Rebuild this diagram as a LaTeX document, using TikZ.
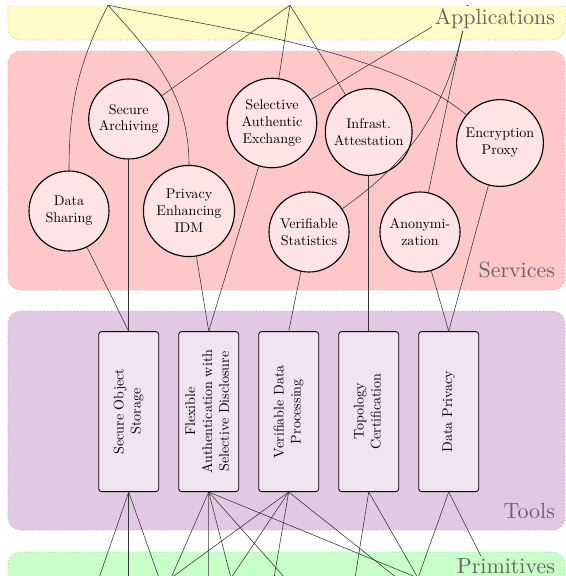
\documentclass[tikz,border=0pt]{standalone}
\usepackage{xcolor}
\usepackage{tikz}
\usetikzlibrary{shapes,arrows,positioning}
\definecolor{appsbg}{RGB}{255, 251, 200}
\definecolor{servbg}{RGB}{255, 200, 200}
\definecolor{toolbg}{RGB}{226, 200, 226}
\definecolor{primbg}{RGB}{200, 255, 200}
\definecolor{servfill}{RGB}{255, 228, 230}
\definecolor{toolfill}{RGB}{240, 228, 240}
\definecolor{lbl}{RGB}{100, 100, 100}
\tikzstyle{layer} = [draw=black!40, dotted, rounded corners=0.3cm]
\tikzstyle{layerlabel} = [text=lbl, inner sep=2pt, anchor=east]
\tikzstyle{service} = [circle, draw, thick, fill=servfill, align=center, minimum size=2cm]
\tikzstyle{tool} = [rectangle, draw, semithick, fill=toolfill, rounded corners=2pt, minimum width=1.5cm, minimum height=4cm, inner sep=0pt]
\tikzstyle{line} = [draw, black!80]
\newcommand{\vtext}[1]{\rotatebox{90}{\begin{tabular}{@{}c@{}}#1\end{tabular}}}
\newcommand{\layername}[1]{\scalebox{1.56}{#1}}

\begin{document}
\begin{tikzpicture}[node distance=2cm, auto]
    \useasboundingbox (0,0) rectangle (14.15,-14.4);
    % layers, cut off at top and bottom
    \begin{scope}
        \clip (0,-0.14) rectangle (14.15,-14.4);
        \path [layer, fill=appsbg] (0.2,0.5) rectangle (14.125,-1.0);
        \path [layer, fill=servbg] (0.2,-1.275) rectangle (14.125,-7.25);
        \path [layer, fill=toolbg] (0.2,-7.775) rectangle (14.125,-13.25);
        \path [layer, fill=primbg] (0.2,-13.8) rectangle (14.125,-15.2);
    \end{scope}

    % tools
    \node [tool] (sos) at (3.2175,-10.29) {\vtext{Secure Object\\Storage}};
    \node [tool, right of=sos] (flex) {\vtext{Flexible\\Authentication with\\Selective Disclosure}};
    \node [tool, right of=flex] (vdp) {\vtext{Verifiable Data\\Processing}};
    \node [tool, right of=vdp] (topo) {\vtext{Topology\\Certification}};
    \node [tool, right of=topo] (dp) {\vtext{Data Privacy}};

    % services
    \node [service, above of=sos, node distance=7.315cm] (sa) {Secure\\Archiving};
    \node [service] (ds) at (1.725,-5.275) {Data\\Sharing};
    \node [service] (pe) at (4.725,-5.275) {Privacy\\Enhancing\\IDM};
    \node [service] (sae) at (6.8,-3.075) {Selective\\Authentic\\Exchange};
    \node [service, above of=topo, node distance=6.99cm] (ia) {Infrast.\\Attestation};
    \node [service] (ep) at (12.5,-3.575) {Encryption\\Proxy};
    \node [service] (vs) at (7.725,-5.8) {Verifiable\\Statistics};
    \node [service, right of=vs, node distance=2.775cm] (an) {Anonymi-\\zation};

    % applications and primitives lie outside the picture
    \coordinate (app1) at (2.7,-0.13);
    \coordinate (app2) at (7.25,-0.13);
    \coordinate (app3) at (11.7,-0.13);
    \coordinate (prim1) at (2.475,-14.45);
    \coordinate (prim2) at (3.2175,-14.45);
    \coordinate (prim3) at (3.975,-14.45);
    \coordinate (prim4) at (4.275,-14.45);
    \coordinate (prim5) at (5.2175,-14.45);
    \coordinate (prim6) at (5.775,-14.45);
    \coordinate (prim7) at (6.85,-14.45);
    \coordinate (prim8) at (7.125,-14.45);
    \coordinate (prim9) at (8.875,-14.45);
    \coordinate (prim10) at (9.925,-14.45);
    \coordinate (prim11) at (10.45,-14.45);
    \coordinate (prim12) at (12.3,-14.45);

    \path [line] (ds.north) to[out=90, in=-117] (app1);
    \path [line] (pe.north) to[out=90, in=-48] (app1);
    \path [line] (ep) to[out=140, in=-12, looseness=0.7] (app1);
    \path [line] (sa) -- (app2);
    \path [line] (sae) -- (app2);
    \path [line] (ia) -- (app2);
    \path [line] (sae) -- (app3);
    \path [line] (vs) to[out=35, in=-100] (app3);
    \path [line] (an) -- (app3);

    \path [line] (ds) -- (sos.north);
    \path [line] (sa) -- (sos.north);
    \path [line] (pe) -- (flex.north);
    \path [line] (sae) -- (flex.north);
    \path [line] (vs) -- (vdp.north);
    \path [line] (ia) -- (topo.north);
    \path [line] (an) -- (dp.north);
    \path [line] (ep) -- (dp.north);

    \path [line] (sos.south) -- (prim1);
    \path [line] (sos.south) -- (prim2);
    \path [line] (sos.south) -- (prim3);
    \path [line] (flex.south) -- (prim4);
    \path [line] (flex.south) -- (prim5);
    \path [line] (flex.south) -- (prim6);
    \path [line] (flex.south) -- (prim8);
    \path [line] (flex.south) -- (prim11);
    \path [line] (vdp.south) -- (prim4);
    \path [line] (vdp.south) -- (prim6);
    \path [line] (vdp.south) -- (prim7);
    \path [line] (vdp.south) -- (prim10);
    \path [line] (topo.south) -- (prim9);
    \path [line] (topo.south) -- (prim11);
    \path [line] (dp.south) -- (prim11);
    \path [line] (dp.south) -- (prim12);

    % layer names on top of the lines
    \node [layerlabel, fill=appsbg] (applbl) at (13.95,-0.465) {\layername{Applications}};
    \node [layerlabel, fill=servbg] (servlbl) at (13.95,-6.76) {\layername{Services}};
    \node [layerlabel, fill=toolbg] (toollbl) at (13.95,-12.78) {\layername{Tools}};
    \node [layerlabel, fill=primbg] (primlbl) at (13.95,-14.16) {\layername{Primitives}};
\end{tikzpicture}
\end{document}
